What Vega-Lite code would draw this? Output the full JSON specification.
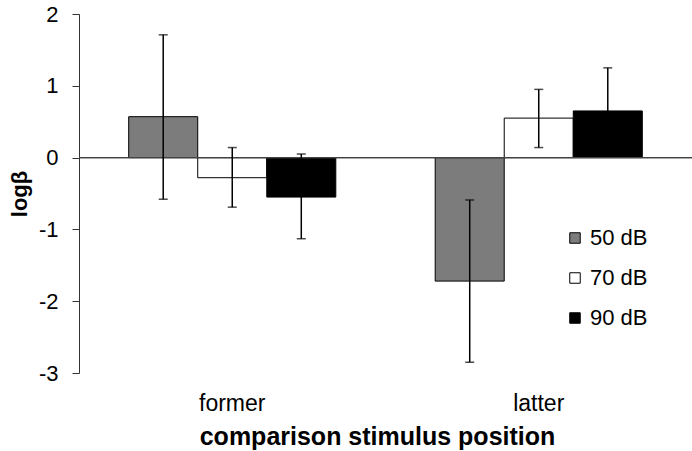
{
  "$schema": "https://vega.github.io/schema/vega-lite/v6.json",
  "width": 613,
  "height": 359,
  "autosize": "none",
  "padding": {"left": 79, "top": 14, "right": 0, "bottom": 78},
  "config": {
    "view": {"stroke": null},
    "font": "Liberation Sans",
    "axis": {"labelFont": "Liberation Sans", "titleFont": "Liberation Sans", "labelColor": "#000", "titleColor": "#000"},
    "legend": {"labelFont": "Liberation Sans"}
  },
  "data": {
    "values": [
      {"position": "former", "level": "50 dB", "value": 0.57, "hi": 1.71, "lo": -0.58},
      {"position": "former", "level": "70 dB", "value": -0.28, "hi": 0.14, "lo": -0.69},
      {"position": "former", "level": "90 dB", "value": -0.55, "hi": 0.05, "lo": -1.13},
      {"position": "latter", "level": "50 dB", "value": -1.72, "hi": -0.59, "lo": -2.85},
      {"position": "latter", "level": "70 dB", "value": 0.55, "hi": 0.95, "lo": 0.14},
      {"position": "latter", "level": "90 dB", "value": 0.65, "hi": 1.25, "lo": 0.05}
    ]
  },
  "encoding": {
    "x": {
      "field": "position", "type": "nominal",
      "scale": {"paddingInner": 0, "paddingOuter": 0},
      "axis": {
        "title": "comparison stimulus position",
        "titleFontSize": 25, "titleFontWeight": "bold", "titlePadding": 9, "titleX": 298,
        "labelFontSize": 23, "labelAngle": 0, "labelPadding": 19,
        "domain": false, "ticks": false
      }
    },
    "xOffset": {"field": "level", "type": "nominal", "scale": {"paddingInner": 0, "paddingOuter": 0.72}}
  },
  "layer": [
    {
      "mark": {"type": "bar", "stroke": "#000", "strokeWidth": 1},
      "encoding": {
        "y": {
          "field": "value", "type": "quantitative",
          "scale": {"domain": [-3, 2], "nice": false, "zero": false},
          "axis": {
            "title": "logβ", "titleFontSize": 22, "titleFontWeight": "bold", "titlePadding": 7,
            "values": [-3, -2, -1, 0, 1, 2], "labelExpr": "'' + datum.value", "labelFontSize": 22, "labelPadding": 14,
            "tickSize": 7, "tickColor": "#333", "domainColor": "#333", "grid": false
          }
        },
        "color": {
          "field": "level", "type": "nominal",
          "scale": {"domain": ["50 dB", "70 dB", "90 dB"], "range": ["#7c7c7c", "#ffffff", "#000000"]},
          "legend": {
            "title": null, "orient": "none", "legendX": 485, "legendY": 213,
            "symbolType": "square", "symbolSize": 110, "symbolStrokeColor": "#000", "symbolStrokeWidth": 1,
            "symbolOpacity": 1, "labelFontSize": 22, "labelColor": "#000", "rowPadding": 18, "labelOffset": 4
          }
        }
      }
    },
    {
      "mark": {"type": "rule", "color": "#444", "strokeWidth": 1},
      "encoding": {"y": {"datum": 0}, "x": {"value": 0}, "x2": {"value": 613}, "xOffset": null}
    },
    {
      "mark": {"type": "rule", "color": "#000", "strokeWidth": 1.5},
      "encoding": {"y": {"field": "lo", "type": "quantitative"}, "y2": {"field": "hi"}}
    },
    {
      "mark": {"type": "tick", "color": "#000", "size": 9, "thickness": 1.5, "orient": "horizontal"},
      "encoding": {"y": {"field": "hi", "type": "quantitative"}}
    },
    {
      "mark": {"type": "tick", "color": "#000", "size": 9, "thickness": 1.5, "orient": "horizontal"},
      "encoding": {"y": {"field": "lo", "type": "quantitative"}}
    }
  ]
}
